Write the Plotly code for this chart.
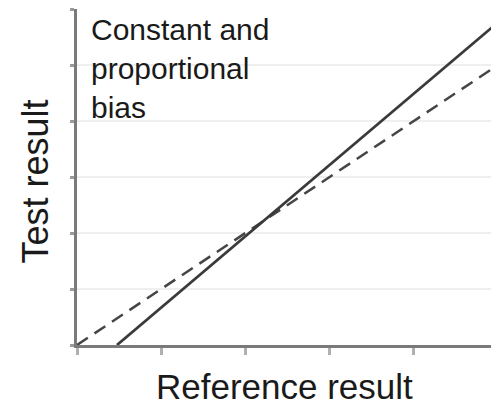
import plotly.graph_objects as go

# Data (in axis units: x 0-5, y 0-6)
solid_x = [0.475, 4.99]
solid_y = [0.0, 5.75]
dashed_x = [0.0, 4.93]
dashed_y = [0.0, 4.93]
x_ticks = [0, 1, 2, 3, 4, 5]
y_ticks = [0, 1, 2, 3, 4, 5, 6]
label = "Constant and<br>proportional<br>bias"
x_title = "Reference result"
y_title = "Test result"

FONT = "Liberation Sans, Arial, sans-serif"

fig = go.Figure()
fig.add_trace(go.Scatter(x=dashed_x, y=dashed_y, mode="lines",
                         line=dict(color="#454545", width=2.5, dash="13px,8px"),
                         showlegend=False, hoverinfo="skip", cliponaxis=False))
fig.add_trace(go.Scatter(x=solid_x, y=solid_y, mode="lines",
                         line=dict(color="#3a3a3a", width=2.8),
                         showlegend=False, hoverinfo="skip", cliponaxis=False))

fig.update_layout(
    width=491, height=399,
    margin=dict(l=69, r=1, t=1, b=62),
    plot_bgcolor="white", paper_bgcolor="white",
    font=dict(family=FONT, color="#1a1a1a"),
    xaxis=dict(range=[0, 5], tickvals=x_ticks, showticklabels=False,
               showgrid=False, zeroline=False,
               showline=True, linecolor="#7a7a7a", linewidth=3,
               ticks="outside", ticklen=7, tickwidth=3, tickcolor="#b0b0b0"),
    yaxis=dict(range=[0, 6], tickvals=y_ticks, showticklabels=False,
               showgrid=True, gridcolor="#efefef", gridwidth=2, zeroline=False,
               showline=True, linecolor="#7a7a7a", linewidth=3,
               ticks="outside", ticklen=4, tickwidth=3, tickcolor="#9a9a9a"),
    annotations=[
        dict(text=label, xref="paper", yref="paper", x=0.0285, y=0.995,
             xanchor="left", yanchor="top", align="left", showarrow=False,
             font=dict(size=30, family=FONT, color="#1a1a1a")),
        dict(text=x_title, xref="paper", yref="paper", x=0.494, y=-0.124,
             xanchor="center", yanchor="middle", showarrow=False,
             font=dict(size=35, family=FONT, color="#1a1a1a")),
        dict(text=y_title, xref="paper", yref="paper", x=-0.0974, y=0.4866,
             xanchor="center", yanchor="middle", showarrow=False, textangle=-90,
             font=dict(size=36, family=FONT, color="#1a1a1a")),
    ],
)

fig.write_html("out.html")
